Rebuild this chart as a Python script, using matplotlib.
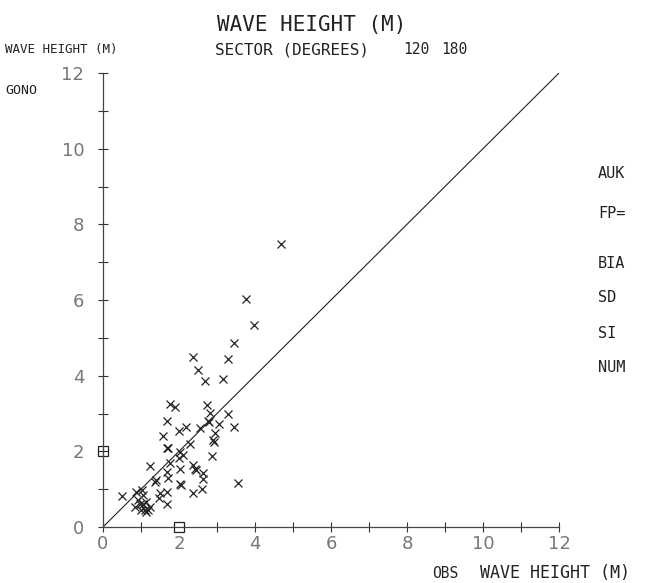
import matplotlib
matplotlib.use('Agg')
import matplotlib.pyplot as plt
from matplotlib.ticker import MultipleLocator

# observed vs. model (GONO) wave height, metres
obs = [4.68, 3.75, 3.97, 3.46, 2.36, 3.30, 2.51, 2.68, 3.17, 1.76,
       1.89, 2.73, 2.82, 3.30, 1.68, 2.77, 2.79, 3.06, 3.46, 2.18,
       2.01, 2.55, 1.57, 2.95, 2.90, 2.29, 1.68, 1.70, 2.93, 2.03,
       2.11, 2.86, 2.01, 1.76, 1.24, 2.38, 2.42, 2.44, 2.03, 1.69,
       2.64, 1.39, 1.72, 2.62, 2.03, 2.05, 3.56, 2.60, 2.38, 0.87,
       1.02, 1.06, 0.49, 1.50, 1.69, 1.48, 1.69, 0.93, 0.84, 0.98,
       1.11, 1.19, 1.24, 1.14, 1.00, 1.14, 1.06, 1.37]
gono = [7.48, 6.02, 5.34, 4.86, 4.49, 4.44, 4.14, 3.86, 3.91, 3.25,
        3.17, 3.23, 3.02, 2.98, 2.79, 2.79, 2.77, 2.72, 2.65, 2.65,
        2.55, 2.61, 2.41, 2.48, 2.30, 2.20, 2.10, 2.08, 2.24, 1.97,
        1.90, 1.88, 1.82, 1.68, 1.60, 1.64, 1.53, 1.51, 1.53, 1.46,
        1.44, 1.24, 1.29, 1.26, 1.14, 1.12, 1.16, 1.00, 0.89, 0.93,
        0.98, 0.85, 0.82, 0.89, 0.93, 0.76, 0.61, 0.71, 0.54, 0.62,
        0.45, 0.46, 0.53, 0.40, 0.45, 0.66, 0.62, 1.20]

# mean markers drawn on the axes
mean_obs = 2.0
mean_gono = 2.0

ticks = [0, 2, 4, 6, 8, 10, 12]

fig = plt.figure(figsize=(6.46, 5.83), dpi=100)
ax = fig.add_axes([103/646, 1-527/583, 456/646, 454/583])

ax.plot([0, 12], [0, 12], color='#222222', lw=0.8)
ax.plot(obs, gono, 'x', color='#222222', ms=6, mew=0.9)

ax.plot(0, mean_gono, 's', mfc='white', mec='#222222', ms=7, mew=0.9, clip_on=False)
ax.plot(0, mean_gono, '+', color='#222222', ms=7, mew=0.8, clip_on=False)
ax.plot(mean_obs, 0, 's', mfc='white', mec='#222222', ms=7, mew=0.9, clip_on=False)

ax.set_xlim(0, 12)
ax.set_ylim(0, 12)
for s in ['top', 'right']:
    ax.spines[s].set_visible(False)
for s in ['left', 'bottom']:
    ax.spines[s].set_color('#444444')
    ax.spines[s].set_linewidth(0.9)

ax.set_xticks(ticks)
ax.set_yticks(ticks)
ax.xaxis.set_minor_locator(MultipleLocator(1))
ax.yaxis.set_minor_locator(MultipleLocator(1))
ax.tick_params(which='both', direction='inout', length=7, width=0.8, color='#333333')
ax.tick_params(axis='x', labelsize=13, labelcolor='#777777', pad=2)
ax.tick_params(axis='y', labelsize=13, labelcolor='#777777', pad=10)

mono = 'DejaVu Sans Mono'
ink = '#222222'
fig.text(312/646, 1-25/583, 'WAVE HEIGHT (M)', family=mono, fontsize=15,
         ha='center', va='center', color=ink)
fig.text(5/646, 1-50/583, 'WAVE HEIGHT (M)', family=mono, fontsize=9,
         ha='left', va='center', color=ink)
fig.text(215/646, 1-50/583, 'SECTOR (DEGREES)', family=mono, fontsize=11.5,
         ha='left', va='center', color=ink)
fig.text(403/646, 1-50/583, '120', family=mono, fontsize=10.5,
         ha='left', va='center', color=ink)
fig.text(441/646, 1-50/583, '180', family=mono, fontsize=10.5,
         ha='left', va='center', color=ink)
fig.text(5/646, 1-90/583, 'GONO', family=mono, fontsize=9.5,
         ha='left', va='center', color=ink)
fig.text(432/646, 1-573/583, 'OBS', family=mono, fontsize=10.5,
         ha='left', va='center', color=ink)
fig.text(480/646, 1-573/583, 'WAVE HEIGHT (M)', family=mono, fontsize=12,
         ha='left', va='center', color=ink)

right_labels = ['AUK', 'FP=', 'BIA', 'SD', 'SI', 'NUM']
right_y = [173, 213, 263, 297, 333, 368]
for lab, yy in zip(right_labels, right_y):
    fig.text(598/646, 1-yy/583, lab, family=mono, fontsize=11,
             ha='left', va='center', color=ink)

fig.savefig('out.png', dpi=100)
